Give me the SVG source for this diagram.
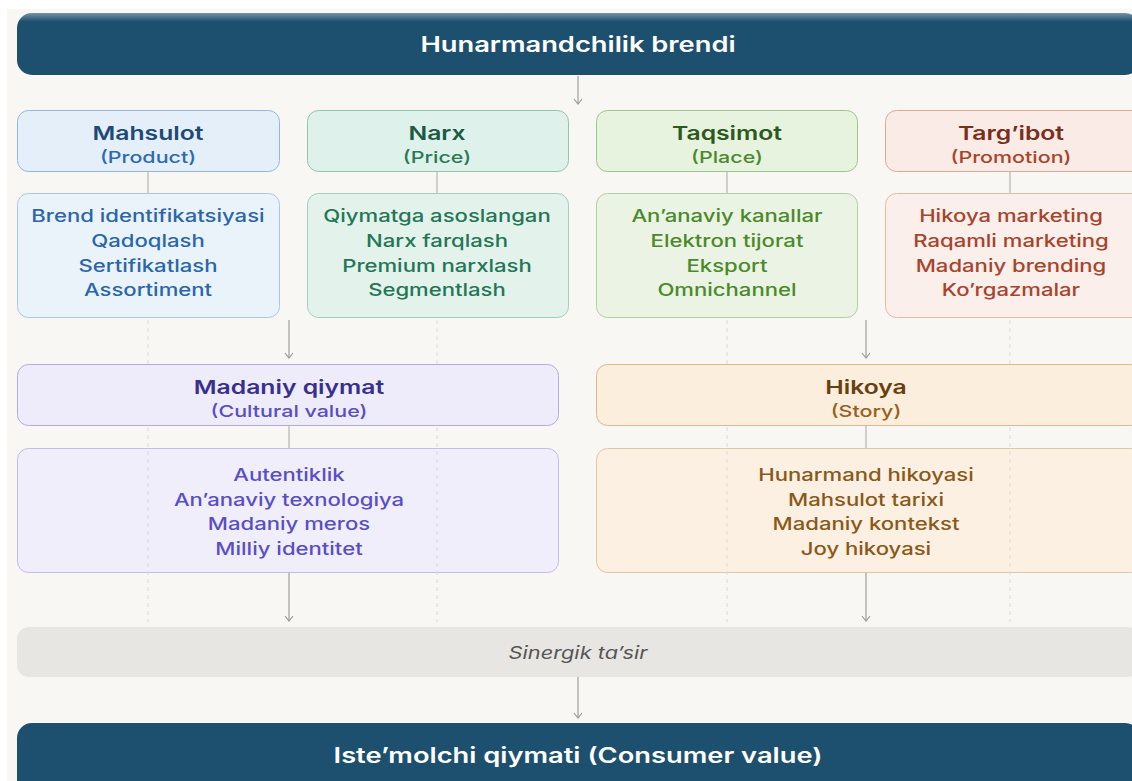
<svg xmlns="http://www.w3.org/2000/svg" width="1132" height="781" viewBox="0 0 1132 781">
<defs>
<linearGradient id="barg" x1="0" y1="0" x2="0" y2="1">
<stop offset="0" stop-color="#6f93a8"/>
<stop offset="0.14" stop-color="#1d4f6e"/>
<stop offset="1" stop-color="#1d4f6e"/>
</linearGradient>
<marker id="arr" viewBox="0 0 10 10" refX="9" refY="5" markerWidth="10" markerHeight="10" markerUnits="userSpaceOnUse" orient="auto">
<path d="M4,1 L9,5 L4,9" fill="none" stroke="#9a9a9a" stroke-width="1.2"/>
</marker>
<style>
text{font-family:Inter,"Open Sans","Liberation Sans",sans-serif;text-anchor:middle;dominant-baseline:central}
.bar{font-size:21px;font-weight:600;fill:#ffffff}
.t{font-size:19px;font-weight:600}
.s{font-size:16.5px;font-weight:500}
.d{font-size:17px;font-weight:500}
.con{stroke:#bdbbb6;stroke-width:1.3;fill:none}
.arw{stroke:#a8a6a2;stroke-width:1.3;fill:none;marker-end:url(#arr)}
.dash{stroke:#dcdad5;stroke-width:1;stroke-dasharray:4 4;fill:none}
</style>
</defs>
<rect x="0" y="0" width="1132" height="781" fill="#ffffff"/>
<rect x="7" y="9" width="1125" height="772" fill="#f8f7f4"/>

<g id="brand">
<rect x="17" y="13" width="1123" height="62" rx="15" fill="url(#barg)"/>
<text class="bar" x="578" y="44" transform="matrix(1.3 0 0 1 -173.4 0)">Hunarmandchilik brendi</text>
</g>

<g id="product">
<rect x="17.5" y="110.5" width="262" height="61" rx="11" fill="#e5eff9" stroke="#93b7de"/>
<g transform="matrix(1.3 0 0 1 -44.4 0)">
<text class="t" x="148" y="133" fill="#1e4a78">Mahsulot</text>
<text class="s" x="148" y="157" fill="#2d6bb0">(Product)</text>
</g>
</g>
<g id="product-items">
<rect x="17.5" y="193.5" width="262" height="124" rx="11" fill="#ebf3fa" stroke="#a9c6e6"/>
<g transform="matrix(1.3 0 0 1 -44.4 0)" fill="#2a66aa">
<text class="d" x="148" y="216">Brend identifikatsiyasi</text>
<text class="d" x="148" y="241">Qadoqlash</text>
<text class="d" x="148" y="266">Sertifikatlash</text>
<text class="d" x="148" y="290">Assortiment</text>
</g>
</g>

<g id="price">
<rect x="307.5" y="110.5" width="261" height="61" rx="11" fill="#dff1eb" stroke="#8fc6b0"/>
<g transform="matrix(1.3 0 0 1 -131.1 0)">
<text class="t" x="437" y="133" fill="#1b5a44">Narx</text>
<text class="s" x="437" y="157" fill="#2a7a58">(Price)</text>
</g>
</g>
<g id="price-items">
<rect x="307.5" y="193.5" width="261" height="124" rx="11" fill="#e3f3ec" stroke="#9fd0bb"/>
<g transform="matrix(1.3 0 0 1 -131.1 0)" fill="#237656">
<text class="d" x="437" y="216">Qiymatga asoslangan</text>
<text class="d" x="437" y="241">Narx farqlash</text>
<text class="d" x="437" y="266">Premium narxlash</text>
<text class="d" x="437" y="290">Segmentlash</text>
</g>
</g>

<g id="place">
<rect x="596.5" y="110.5" width="261" height="61" rx="11" fill="#e7f2df" stroke="#9fc68c"/>
<g transform="matrix(1.3 0 0 1 -218.1 0)">
<text class="t" x="727" y="133" fill="#2c5a1c">Taqsimot</text>
<text class="s" x="727" y="157" fill="#4a8a2e">(Place)</text>
</g>
</g>
<g id="place-items">
<rect x="596.5" y="193.5" width="261" height="124" rx="11" fill="#ebf4e4" stroke="#b0d09e"/>
<g transform="matrix(1.3 0 0 1 -218.1 0)" fill="#4a8a2a">
<text class="d" x="727" y="216">An’anaviy kanallar</text>
<text class="d" x="727" y="241">Elektron tijorat</text>
<text class="d" x="727" y="266">Eksport</text>
<text class="d" x="727" y="290">Omnichannel</text>
</g>
</g>

<g id="promotion">
<rect x="885.5" y="110.5" width="262" height="61" rx="11" fill="#faebe6" stroke="#e1a898"/>
<g transform="matrix(1.3 0 0 1 -303.3 0)">
<text class="t" x="1011" y="133" fill="#7a2e1c">Targ’ibot</text>
<text class="s" x="1011" y="157" fill="#a8442a">(Promotion)</text>
</g>
</g>
<g id="promotion-items">
<rect x="885.5" y="193.5" width="262" height="124" rx="11" fill="#faefeb" stroke="#e6b8aa"/>
<g transform="matrix(1.3 0 0 1 -303.3 0)" fill="#a8442c">
<text class="d" x="1011" y="216">Hikoya marketing</text>
<text class="d" x="1011" y="241">Raqamli marketing</text>
<text class="d" x="1011" y="266">Madaniy brending</text>
<text class="d" x="1011" y="290">Ko’rgazmalar</text>
</g>
</g>

<g id="cultural">
<rect x="17.5" y="364.5" width="541" height="61" rx="11" fill="#eeecfb" stroke="#b3aaea"/>
<g transform="matrix(1.3 0 0 1 -86.7 0)">
<text class="t" x="289" y="387" fill="#38308e">Madaniy qiymat</text>
<text class="s" x="289" y="411" fill="#5a4ec0">(Cultural value)</text>
</g>
</g>
<g id="cultural-items">
<rect x="17.5" y="448.5" width="541" height="124" rx="11" fill="#f0eefb" stroke="#c2bbee"/>
<g transform="matrix(1.3 0 0 1 -86.7 0)" fill="#5a4ec6">
<text class="d" x="289" y="475">Autentiklik</text>
<text class="d" x="289" y="500">An’anaviy texnologiya</text>
<text class="d" x="289" y="524">Madaniy meros</text>
<text class="d" x="289" y="549">Milliy identitet</text>
</g>
</g>

<g id="story">
<rect x="596.5" y="364.5" width="545" height="61" rx="11" fill="#fbeedc" stroke="#dcb98c"/>
<g transform="matrix(1.3 0 0 1 -259.8 0)">
<text class="t" x="866" y="387" fill="#6a3f10">Hikoya</text>
<text class="s" x="866" y="411" fill="#9a6020">(Story)</text>
</g>
</g>
<g id="story-items">
<rect x="596.5" y="448.5" width="545" height="124" rx="11" fill="#fbf0e2" stroke="#e2c6a0"/>
<g transform="matrix(1.3 0 0 1 -259.8 0)" fill="#8a5818">
<text class="d" x="866" y="475">Hunarmand hikoyasi</text>
<text class="d" x="866" y="500">Mahsulot tarixi</text>
<text class="d" x="866" y="524">Madaniy kontekst</text>
<text class="d" x="866" y="549">Joy hikoyasi</text>
</g>
</g>

<g id="synergy">
<rect x="17" y="627" width="1123" height="50" rx="12" fill="#e8e6e2"/>
<text x="578" y="653" font-size="17" font-style="italic" fill="#555555" transform="matrix(1.28 0 0 1 -161.84 0)">Sinergik ta’sir</text>
</g>

<g id="consumer">
<rect x="17" y="723" width="1123" height="75" rx="15" fill="#1d4f6e"/>
<text class="bar" x="578" y="755" font-size="22" transform="matrix(1.3 0 0 1 -173.4 0)">Iste’molchi qiymati (Consumer value)</text>
</g>

<g id="connectors">
<path class="dash" d="M148,320 V364 M437,320 V364 M727,320 V364 M1010,320 V364 M148,427 V622 M437,427 V622 M727,427 V622 M1010,427 V622"/>
<path class="arw" d="M578,76 V104"/>
<path class="con" d="M148,172 V193 M437,172 V193 M727,172 V193 M1010,172 V193"/>
<path class="arw" d="M289,320 V358"/>
<path class="arw" d="M866,320 V358"/>
<path class="con" d="M289,426 V448 M866,426 V448"/>
<path class="arw" d="M289,573 V621"/>
<path class="arw" d="M866,573 V621"/>
<path class="arw" d="M578,677 V718"/>
</g>
</svg>
